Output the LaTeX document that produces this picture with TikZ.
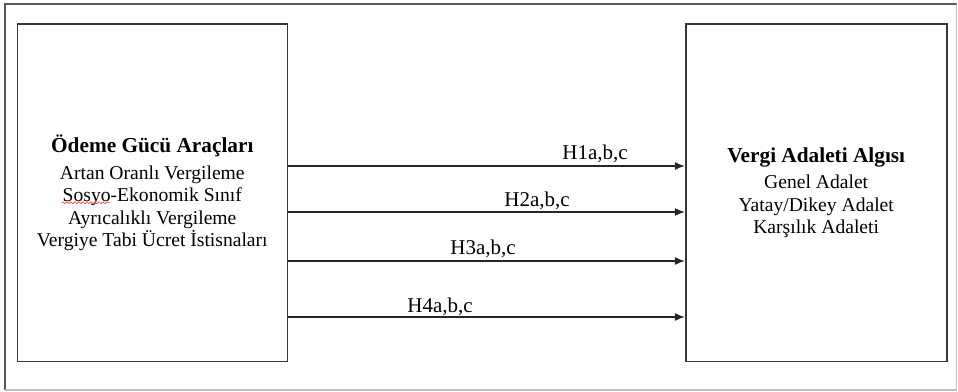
\documentclass[tikz,border=0pt]{standalone}
\usepackage{fontspec}
\setmainfont{Liberation Serif}
\usetikzlibrary{arrows.meta,decorations.pathmorphing}
\begin{document}
\begin{tikzpicture}[x=1pt,y=1pt,
  box/.style={draw=black!78, line width=1.6pt, minimum width=#1, minimum height=337.7pt,
    inner sep=0pt, align=center, font=\fontsize{19.6}{22.5}\selectfont},
  arr/.style={draw=black!85, line width=1.3pt, -{Latex[length=10pt,width=8pt]}},
  lab/.style={anchor=base, font=\fontsize{21}{24}\selectfont, inner sep=0pt},
  frameD/.style={draw=black!65, line width=1.3pt},
  frameL/.style={draw=black!25, line width=1.3pt},
  squiggle/.style={draw=red!85, line width=0.6pt, decorate,
    decoration={snake, segment length=4pt, amplitude=0.9pt}}]
\useasboundingbox (0,0) rectangle (958,391);
% outer frame
\draw[frameD] (5,1) -- (5,387) -- (957,387);
\draw[frameL] (5,1) -- (956.5,1) -- (956.5,387);
% boxes
\node[box=270pt] (L) at (152.3,198.2)
  {{\fontsize{21.3}{24}\selectfont\bfseries Ödeme Gücü Araçları}\\[4pt]
   Artan Oranlı Vergileme\\Sosyo-Ekonomik Sınıf\\Ayrıcalıklı Vergileme\\Vergiye Tabi Ücret İstisnaları};
\node[box=261pt] (R) at (816.2,198.2)
  {{\fontsize{21.3}{24}\selectfont\bfseries Vergi Adaleti Algısı}\\[4pt]
   Genel Adalet\\Yatay/Dikey Adalet\\Karşılık Adaleti};
% arrow levels
\coordinate (y1) at (0,225);
\coordinate (y2) at (0,179);
\coordinate (y3) at (0,130);
\coordinate (y4) at (0,74);
\draw[arr] (L.east |- y1) -- (R.west |- y1);
\draw[arr] (L.east |- y2) -- (R.west |- y2);
\draw[arr] (L.east |- y3) -- (R.west |- y3);
\draw[arr] (L.east |- y4) -- (R.west |- y4);
% labels
\node[lab] (h1) at (595,231) {H1a,b,c};
\node[lab] (h2) at (537,184.3) {H2a,b,c};
\node[lab] (h3) at (483,136) {H3a,b,c};
\node[lab] (h4) at (440,78) {H4a,b,c};
% spell-check squiggle under "Sosyo"
\draw[squiggle] (61.7,188.3) -- (110,188.3);
\end{tikzpicture}
\end{document}
